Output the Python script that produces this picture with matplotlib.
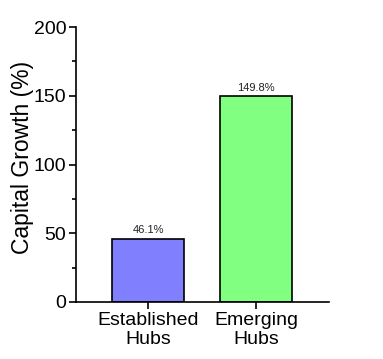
import matplotlib
matplotlib.use("Agg")
import matplotlib.pyplot as plt
from matplotlib.ticker import MultipleLocator

categories = ["Established\nHubs", "Emerging\nHubs"]
growth = [46.1, 149.8]
bar_labels = ["46.1%", "149.8%"]
colors = ["#8080ff", "#80ff80"]

plt.rcParams["font.family"] = ["Liberation Sans", "DejaVu Sans"]

fig = plt.figure(figsize=(3.83, 3.59), dpi=100)
ax = fig.add_axes([76/383, 1 - 302/359, 253/383, 275/359])

x = range(len(categories))
bars = ax.bar(x, growth, width=0.66, color=colors, edgecolor="black", linewidth=1.2)
for b, lab in zip(bars, bar_labels):
    ax.text(b.get_x() + b.get_width()/2, b.get_height() + 2.5, lab,
            ha="center", va="bottom", fontsize=8, color="#222222")

ax.set_xlim(-0.667, 1.676)
ax.set_ylim(0, 200)
ax.set_xticks(list(x))
ax.set_xticklabels(categories, fontsize=14, linespacing=1.15)
ax.yaxis.set_major_locator(MultipleLocator(50))
ax.yaxis.set_minor_locator(MultipleLocator(25))
ax.tick_params(axis="both", which="major", direction="out", length=5, width=1.2, labelsize=14, pad=2)
ax.tick_params(axis="y", which="minor", direction="out", length=3, width=1.2)
ax.set_ylabel("Capital Growth (%)", fontsize=16.5)
ax.yaxis.set_label_coords(-0.166, 0.527)
for s in ["top", "right"]:
    ax.spines[s].set_visible(False)
for s in ["left", "bottom"]:
    ax.spines[s].set_linewidth(1.2)

fig.savefig("out.png", dpi=100)
